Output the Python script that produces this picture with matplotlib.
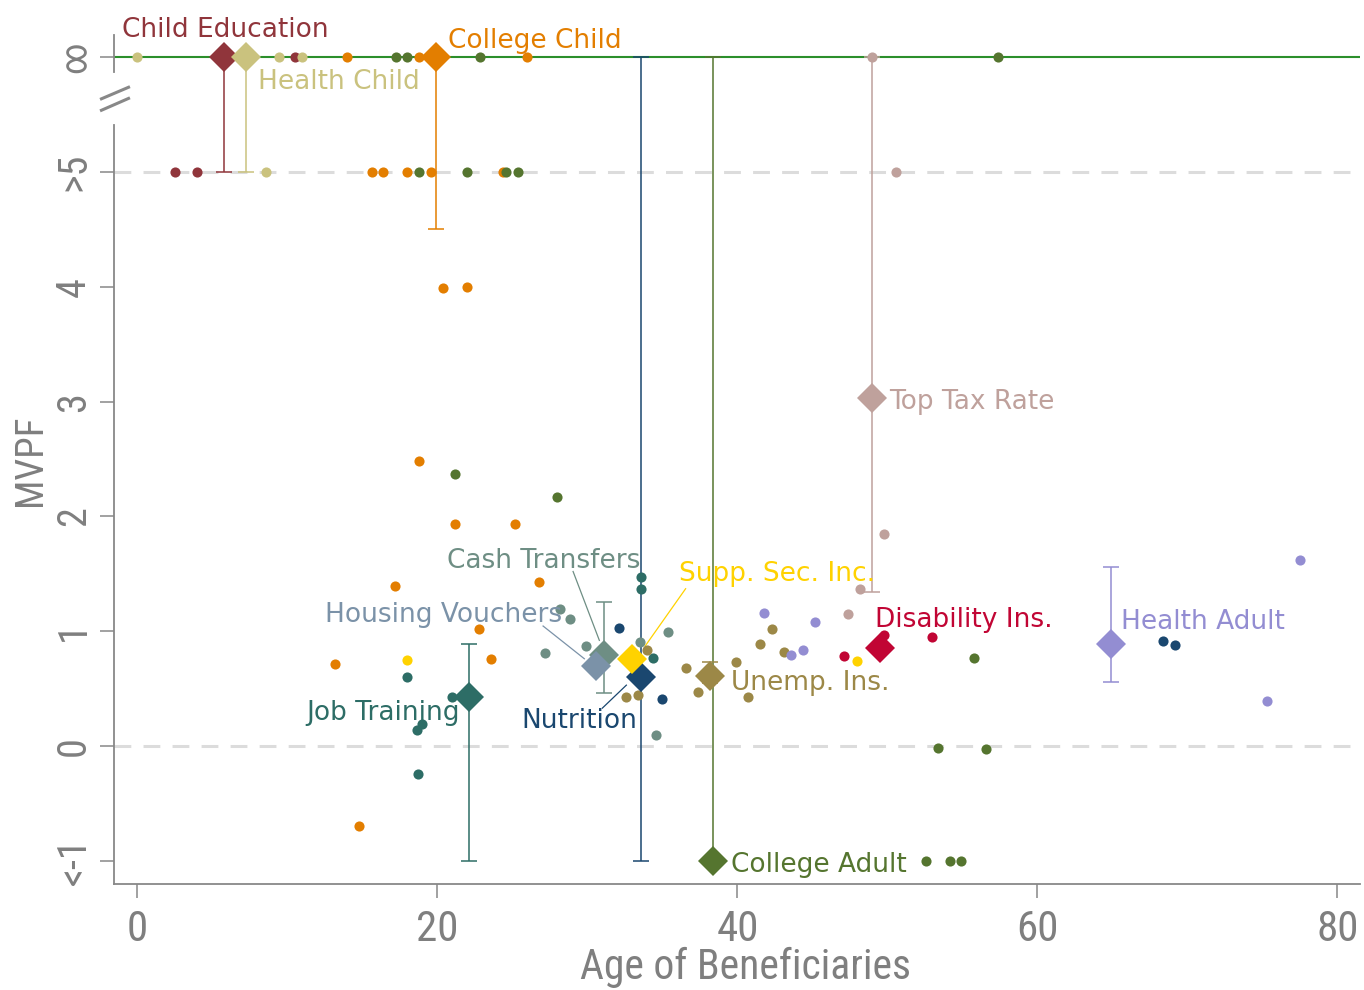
import matplotlib
matplotlib.use("Agg")
import matplotlib.pyplot as plt
from matplotlib import font_manager
from matplotlib.transforms import blended_transform_factory

# ---------------- data ----------------
INF = 6.0     # plotted position of the "infinity" row
GT5 = 5.0     # plotted position of the ">5" row

program_names = ["Child Education", "Health Child", "College Child", "College Adult",
                 "Nutrition", "Job Training", "Cash Transfers", "Housing Vouchers",
                 "Supp. Sec. Inc.", "Unemp. Ins.", "Disability Ins.", "Top Tax Rate",
                 "Health Adult"]
program_colors = ["#90353B", "#CAC27E", "#E37E00", "#55752F", "#1A476F", "#2D6D66",
                  "#6E8E84", "#7B92A8", "#FFD200", "#9C8847", "#C10534", "#BFA19C",
                  "#938DD2"]
avg_age = [5.8, 7.25, 19.9, 38.4, 33.6, 22.1, 31.1, 30.6, 33.0, 38.2, 49.5, 49.0, 64.9]
avg_mvpf = [INF, INF, INF, -1.0, 0.60, 0.43, 0.79, 0.70, 0.76, 0.61, 0.85, 3.03, 0.89]
ci_low = [GT5, GT5, 4.5, -1.0, -1.0, -1.0, 0.465, None, None, 0.55, None, 1.345, 0.555]
ci_high = [INF, INF, INF, INF, INF, 0.89, 1.255, None, None, 0.735, None, INF, 1.56]

# individual policies (age, mvpf) by program
child_ed_age = [10.5, 2.5, 4.0]
child_ed_mvpf = [INF, GT5, GT5]
health_child_age = [0.0, 9.45, 11.0, 8.6]
health_child_mvpf = [INF, INF, INF, GT5]
college_child_age = [14.0, 18.8, 26.0, 15.65, 16.4, 18.0, 19.6, 24.4, 20.4, 22.0,
                     18.8, 21.2, 25.2, 17.2, 26.8, 22.8, 13.2, 23.6, 14.8]
college_child_mvpf = [INF, INF, INF, GT5, GT5, GT5, GT5, GT5, 3.99, 4.0,
                      2.48, 1.93, 1.93, 1.39, 1.43, 1.02, 0.71, 0.76, -0.70]
college_adult_age = [17.25, 18.0, 22.85, 57.4, 18.8, 22.0, 24.6, 25.4, 21.2, 28.0,
                     55.8, 53.4, 56.6, 52.6, 54.2, 54.9]
college_adult_mvpf = [INF, INF, INF, INF, GT5, GT5, GT5, GT5, 2.37, 2.17,
                      0.77, -0.02, -0.03, -1.0, -1.0, -1.0]
nutrition_age = [32.1, 35.0, 68.4, 69.2]
nutrition_mvpf = [1.03, 0.41, 0.915, 0.88]
job_training_age = [33.6, 33.6, 34.4, 18.0, 21.0, 19.0, 18.65, 18.7]
job_training_mvpf = [1.47, 1.37, 0.77, 0.60, 0.43, 0.19, 0.14, -0.24]
cash_age = [28.2, 28.85, 35.4, 33.5, 29.9, 27.2, 34.6]
cash_mvpf = [1.19, 1.11, 0.99, 0.91, 0.87, 0.81, 0.10]
housing_age = []
housing_mvpf = []
ssi_age = [18.0, 48.0]
ssi_mvpf = [0.75, 0.74]
unemp_age = [34.0, 32.6, 33.4, 42.3, 41.5, 43.1, 39.9, 36.6, 37.4, 40.7]
unemp_mvpf = [0.84, 0.43, 0.44, 1.02, 0.89, 0.82, 0.73, 0.68, 0.47, 0.43]
disability_age = [47.1, 49.8, 53.0]
disability_mvpf = [0.78, 0.97, 0.95]
top_tax_age = [49.0, 50.6, 49.8, 48.2, 47.4]
top_tax_mvpf = [INF, GT5, 1.85, 1.37, 1.15]
health_adult_age = [41.8, 45.2, 43.6, 44.4, 77.5, 75.3]
health_adult_mvpf = [1.16, 1.08, 0.79, 0.84, 1.62, 0.39]

dots_age = [child_ed_age, health_child_age, college_child_age, college_adult_age,
            nutrition_age, job_training_age, cash_age, housing_age, ssi_age, unemp_age,
            disability_age, top_tax_age, health_adult_age]
dots_mvpf = [child_ed_mvpf, health_child_mvpf, college_child_mvpf, college_adult_mvpf,
             nutrition_mvpf, job_training_mvpf, cash_mvpf, housing_mvpf, ssi_mvpf,
             unemp_mvpf, disability_mvpf, top_tax_mvpf, health_adult_mvpf]

# label anchor (left edge, vertical centre) in data units
label_x = [-1.0, 8.05, 20.7, 39.6, 25.6, 11.25, 20.65, 12.5, 36.1, 39.6, 49.2, 50.1, 65.6]
label_y = [6.235, 5.785, 6.145, -1.035, 0.22, 0.285, 1.615, 1.145, 1.495, 0.55, 1.10, 2.995, 1.082]
# leader lines (x0, y0, x1, y1) for crowded labels
leaders = {"Cash Transfers": (29.05, 1.52, 30.8, 0.92),
           "Housing Vouchers": (27.05, 1.045, 29.8, 0.76),
           "Supp. Sec. Inc.": (36.55, 1.37, 33.85, 0.87),
           "Nutrition": (31.0, 0.33, 32.6, 0.53)}

y_ticks = [-1, 0, 1, 2, 3, 4, 5, 6]
y_tick_labels = ["<-1", "0", "1", "2", "3", "4", ">5", "\u221e"]
x_ticks = [0, 20, 40, 60, 80]

# ---------------- fonts ----------------
available = {f.name for f in font_manager.fontManager.ttflist}
axis_font = None
for cand in ["Liberation Sans Narrow", "Roboto Condensed", "Archivo Narrow", "PT Sans Narrow",
             "Open Sans Condensed", "Encode Sans Condensed", "Arimo Narrow"]:
    if cand in available:
        axis_font = cand
        break
if axis_font is None:
    axis_font = "Liberation Sans"
    scale = 0.86
else:
    scale = 1.0
label_font = "DejaVu Sans"
GRAY = "#888888"
TXT_GRAY = "#7f7f7f"

# ---------------- figure ----------------
fig = plt.figure(figsize=(13.64, 9.90), dpi=100)
ax = fig.add_axes([114 / 1364, 1 - 884 / 990, 1246 / 1364, 849 / 990])
ax.set_xlim(-1.55, 81.5)
ax.set_ylim(-1.202, 6.193)

for s in ["top", "right", "left"]:
    ax.spines[s].set_visible(False)
ax.spines["bottom"].set_color(GRAY)
ax.spines["bottom"].set_linewidth(1.3)

# left spine in two pieces with a break
bt = blended_transform_factory(ax.transAxes, ax.transData)
ax.plot([0, 0], [-1.202, 5.405], transform=bt, color=GRAY, lw=1.3, clip_on=False)
ax.plot([0, 0], [5.87, 6.193], transform=bt, color=GRAY, lw=1.3, clip_on=False)
ax.plot([-0.0112, 0.0128], [5.632, 5.743], transform=bt, color=GRAY, lw=2.2, clip_on=False,
        solid_capstyle="butt")
ax.plot([-0.0112, 0.0128], [5.532, 5.646], transform=bt, color=GRAY, lw=2.2, clip_on=False,
        solid_capstyle="butt")

# reference lines
ax.axhline(0, color="#dcdcdc", lw=2.2, dashes=(5.5, 4), zorder=1)
ax.axhline(GT5, color="#dcdcdc", lw=2.2, dashes=(5.5, 4), zorder=1)
ax.axhline(INF, color="#2b8f2b", lw=1.5, zorder=1.5)

# confidence intervals
for i, name in enumerate(program_names):
    if ci_low[i] is None:
        continue
    ax.errorbar([avg_age[i]], [(ci_low[i] + ci_high[i]) / 2],
                yerr=[[(ci_high[i] - ci_low[i]) / 2], [(ci_high[i] - ci_low[i]) / 2]],
                fmt="none", ecolor=program_colors[i], elinewidth=1.1, capsize=5.5,
                capthick=1.1, zorder=2)

# individual policies
for i, name in enumerate(program_names):
    if dots_age[i]:
        ax.plot(dots_age[i], dots_mvpf[i], "o", color=program_colors[i], ms=7.3, mew=0,
                zorder=3, clip_on=False)

# program averages
for i, name in enumerate(program_names):
    ax.plot([avg_age[i]], [avg_mvpf[i]], "D", color=program_colors[i], ms=15, mew=0,
            zorder=4, clip_on=False)

# labels and leader lines
for i, name in enumerate(program_names):
    ax.text(label_x[i], label_y[i], name, color=program_colors[i], fontsize=19,
            family=label_font, ha="left", va="center", zorder=5, clip_on=False)
    if name in leaders:
        x0, y0, x1, y1 = leaders[name]
        ax.plot([x0, x1], [y0, y1], color=program_colors[i], lw=0.9, zorder=2.5)

# ticks
ax.set_xticks(x_ticks)
ax.set_xticklabels([str(t) for t in x_ticks], fontsize=31 * scale, family=axis_font,
                   color=TXT_GRAY)
ax.set_yticks(y_ticks)
ax.set_yticklabels(y_tick_labels, fontsize=29 * scale, family=[axis_font, "DejaVu Sans"],
                   color=TXT_GRAY, rotation=90, va="center")
ax.get_yticklabels()[-1].set_fontsize(26 * scale)
ax.tick_params(axis="both", direction="out", length=10, width=1.1, color=GRAY)
ax.tick_params(axis="x", pad=8)
ax.tick_params(axis="y", pad=5)

fig.text(746 / 1364, 1 - 967 / 990, "Age of Beneficiaries", fontsize=30 * scale,
         family=axis_font, color=TXT_GRAY, ha="center", va="center")
fig.text(30 / 1364, 1 - 460 / 990, "MVPF", fontsize=28 * scale, family=axis_font,
         color=TXT_GRAY, rotation=90, ha="center", va="center")

fig.savefig("out.png", dpi=100)
